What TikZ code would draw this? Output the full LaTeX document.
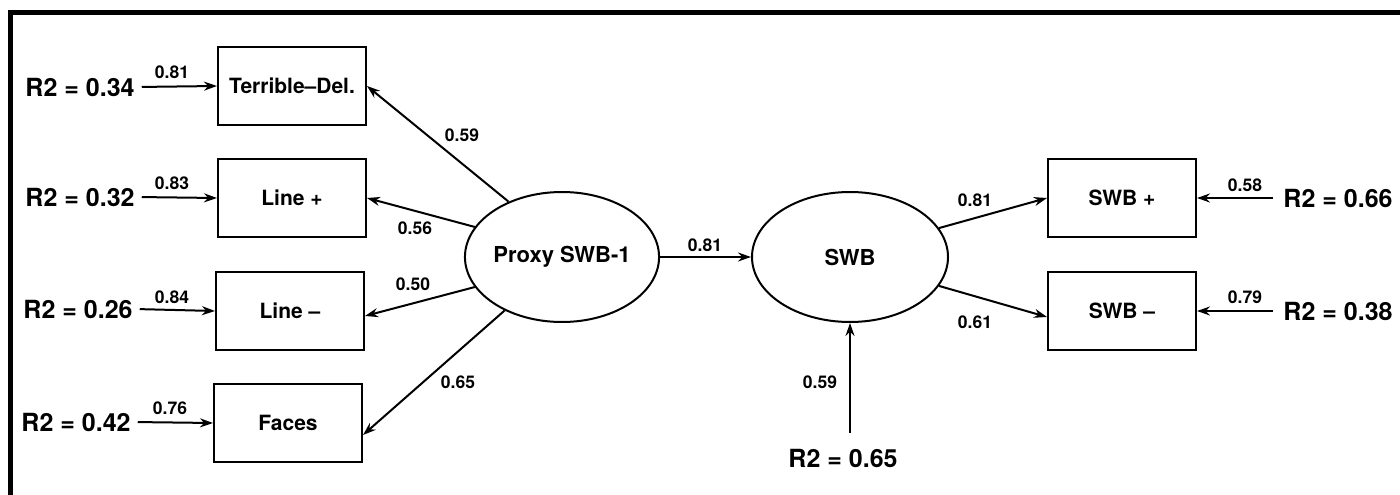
\documentclass[tikz,border=0pt]{standalone}
\usepackage{fontspec}
\setmainfont{TeX Gyre Heros}
\usetikzlibrary{shapes.geometric,arrows.meta}
\begin{document}
\begin{tikzpicture}[x=1pt,y=-1pt,
  box/.style={draw,line width=2pt,minimum width=148pt,minimum height=78pt,inner sep=0pt,font=\fontsize{21}{24}\selectfont\bfseries},
  lat/.style={draw,ellipse,line width=2pt,inner sep=0pt,font=\fontsize{22}{25}\selectfont\bfseries},
  rsq/.style={inner sep=2pt,font=\fontsize{25}{29}\selectfont\bfseries},
  coef/.style={inner sep=0pt,font=\fontsize{17.5}{20}\selectfont\bfseries},
  arr/.style={line width=2pt,-{Stealth[length=13pt,width=9pt]}}]
\useasboundingbox (0,0) rectangle (1400,495);
\fill[white] (0,0) rectangle (1400,495);
\fill[black] (8,10) rectangle (1400,15);
\fill[black] (8,10) rectangle (13,495);
% observed indicators
\node[box] (td) at (292,86) {Terrible--Del.};
\node[box] (lp) at (292,198) {Line +};
\node[box] (lm) at (290,311) {Line --};
\node[box] (fa) at (288,423) {Faces};
\node[box] (sp) at (1122,198) {SWB +};
\node[box] (sm) at (1122,311) {SWB --};
% latent variables
\node[lat,minimum width=194pt,minimum height=130pt] (px) at (562,257) {Proxy SWB-1};
\node[lat,minimum width=196pt,minimum height=130pt] (swb) at (850,257) {SWB};
% R2 nodes
\node[rsq] (r1) at (80,87) {R2 = 0.34};
\node[rsq] (r2) at (80,197) {R2 = 0.32};
\node[rsq] (r3) at (78,309) {R2 = 0.26};
\node[rsq] (r4) at (76,422) {R2 = 0.42};
\node[rsq] (r5) at (843,458) {R2 = 0.65};
\node[rsq] (r6) at (1338,198) {R2 = 0.66};
\node[rsq] (r7) at (1338,311) {R2 = 0.38};
% error arrows
\draw[arr,shorten <=5pt] (r1.east) -- (td.west);
\draw[arr,shorten <=5pt] (r2.east) -- (lp.west);
\draw[arr,shorten <=5pt] (r3.east) -- (lm.west);
\draw[arr,shorten <=5pt] (r4.east) -- (fa.west);
\draw[arr,shorten <=8pt] (r6.west) -- (sp.east);
\draw[arr,shorten <=8pt] (r7.west) -- (sm.east);
\draw[arr,shorten <=14pt] (r5.north -| swb.south) -- (swb.south);
% loadings
\draw[arr] (px.134) -- (td.east);
\draw[arr] (px.161) -- (lp.east);
\draw[arr] (px.199) -- ([yshift=-5pt]lm.east);
\draw[arr] (px.223) -- ([yshift=-12pt]fa.east);
\draw[arr] (px.east) -- (swb.west);
\draw[arr] (swb.18) -- (sp.west);
\draw[arr] (swb.342) -- ([yshift=-6pt]sm.west);
% coefficient labels
\node[coef] (c1) at (172,72) {0.81};
\node[coef] (c2) at (172,183) {0.83};
\node[coef] (c3) at (172,297) {0.84};
\node[coef] (c4) at (170,408) {0.76};
\node[coef] (c5) at (462,135) {0.59};
\node[coef] (c6) at (415,228) {0.56};
\node[coef] (c7) at (413,284) {0.50};
\node[coef] (c8) at (458,382) {0.65};
\node[coef] (c9) at (705,245) {0.81};
\node[coef] (c10) at (975,200) {0.81};
\node[coef] (c11) at (975,322) {0.61};
\node[coef] (c12) at (1245,185) {0.58};
\node[coef] (c13) at (1245,297) {0.79};
\node[coef] (c14) at (820,382) {0.59};
\end{tikzpicture}
\end{document}
